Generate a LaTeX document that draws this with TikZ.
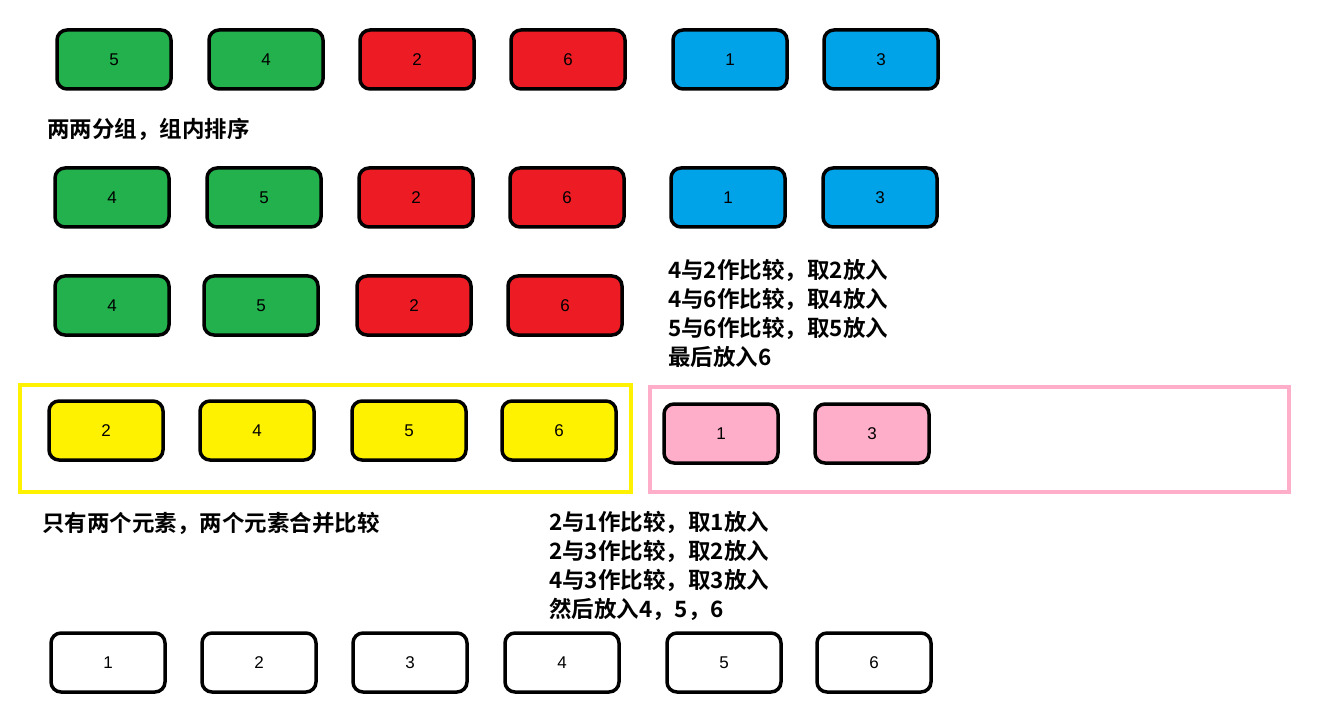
\documentclass[tikz,border=0pt]{standalone}
\usepackage{fontspec}
\setmainfont{Liberation Sans}
\newfontfamily\cjk{Noto Sans CJK SC}[BoldFont={* Bold}]
\definecolor{g}{HTML}{22B14C}\definecolor{r}{HTML}{ED1C24}\definecolor{b}{HTML}{00A2E8}
\definecolor{yl}{HTML}{FFF200}\definecolor{pk}{HTML}{FFAEC9}
\begin{document}
\begin{tikzpicture}[x=1pt,y=-1pt,
 box/.style={draw=black,line width=3.5pt,rounded corners=10pt,minimum width=114pt,minimum height=59pt,font=\fontsize{17}{17}\selectfont,inner sep=0pt},
 lbl/.style={anchor=west,align=left,font=\cjk\bfseries\fontsize{22.5}{29}\selectfont,inner sep=0pt}]
\useasboundingbox (0,0) rectangle (1322,719);
\foreach \x/\t/\c [count=\i] in {114/5/g,266/4/g,417/2/r,568/6/r,730/1/b,881/3/b}
  \node[box,fill=\c] (a\i) at (\x,59.5) {\t};
\node[lbl] (t1) at (47,129) {两两分组，组内排序};
\foreach \x/\t/\c [count=\i] in {112/4/g,264/5/g,416/2/r,567/6/r,728/1/b,880/3/b}
  \node[box,fill=\c] (b\i) at (\x,197.5) {\t};
\foreach \x/\t/\c [count=\i] in {112/4/g,261/5/g,414/2/r,565/6/r}
  \node[box,fill=\c] (c\i) at (\x,305.5) {\t};
\node[lbl] (t2) at (668,313) {4与2作比较，取2放入\\4与6作比较，取4放入\\5与6作比较，取5放入\\最后放入6};
\node[draw=yl,line width=4pt,minimum width=611pt,minimum height=107pt,inner sep=0pt] (yr) at (325.5,438.5) {};
\node[draw=pk,line width=4pt,minimum width=639pt,minimum height=105pt,inner sep=0pt] (pr) at (969.5,439.5) {};
\foreach \x/\t [count=\i] in {106/2,257/4,409/5,559/6}
  \node[box,fill=yl] (d\i) at (\x,430.5) {\t};
\foreach \x/\t [count=\i] in {721/1,872/3}
  \node[box,fill=pk] (e\i) at (\x,433.5) {\t};
\node[lbl] (t3) at (42,523) {只有两个元素，两个元素合并比较};
\node[lbl] (t4) at (549,566) {2与1作比较，取1放入\\2与3作比较，取2放入\\4与3作比较，取3放入\\然后放入4，5，6};
\foreach \x/\t [count=\i] in {108/1,259/2,410/3,562/4,724/5,874/6}
  \node[box,fill=white] (f\i) at (\x,662.5) {\t};
\end{tikzpicture}
\end{document}
